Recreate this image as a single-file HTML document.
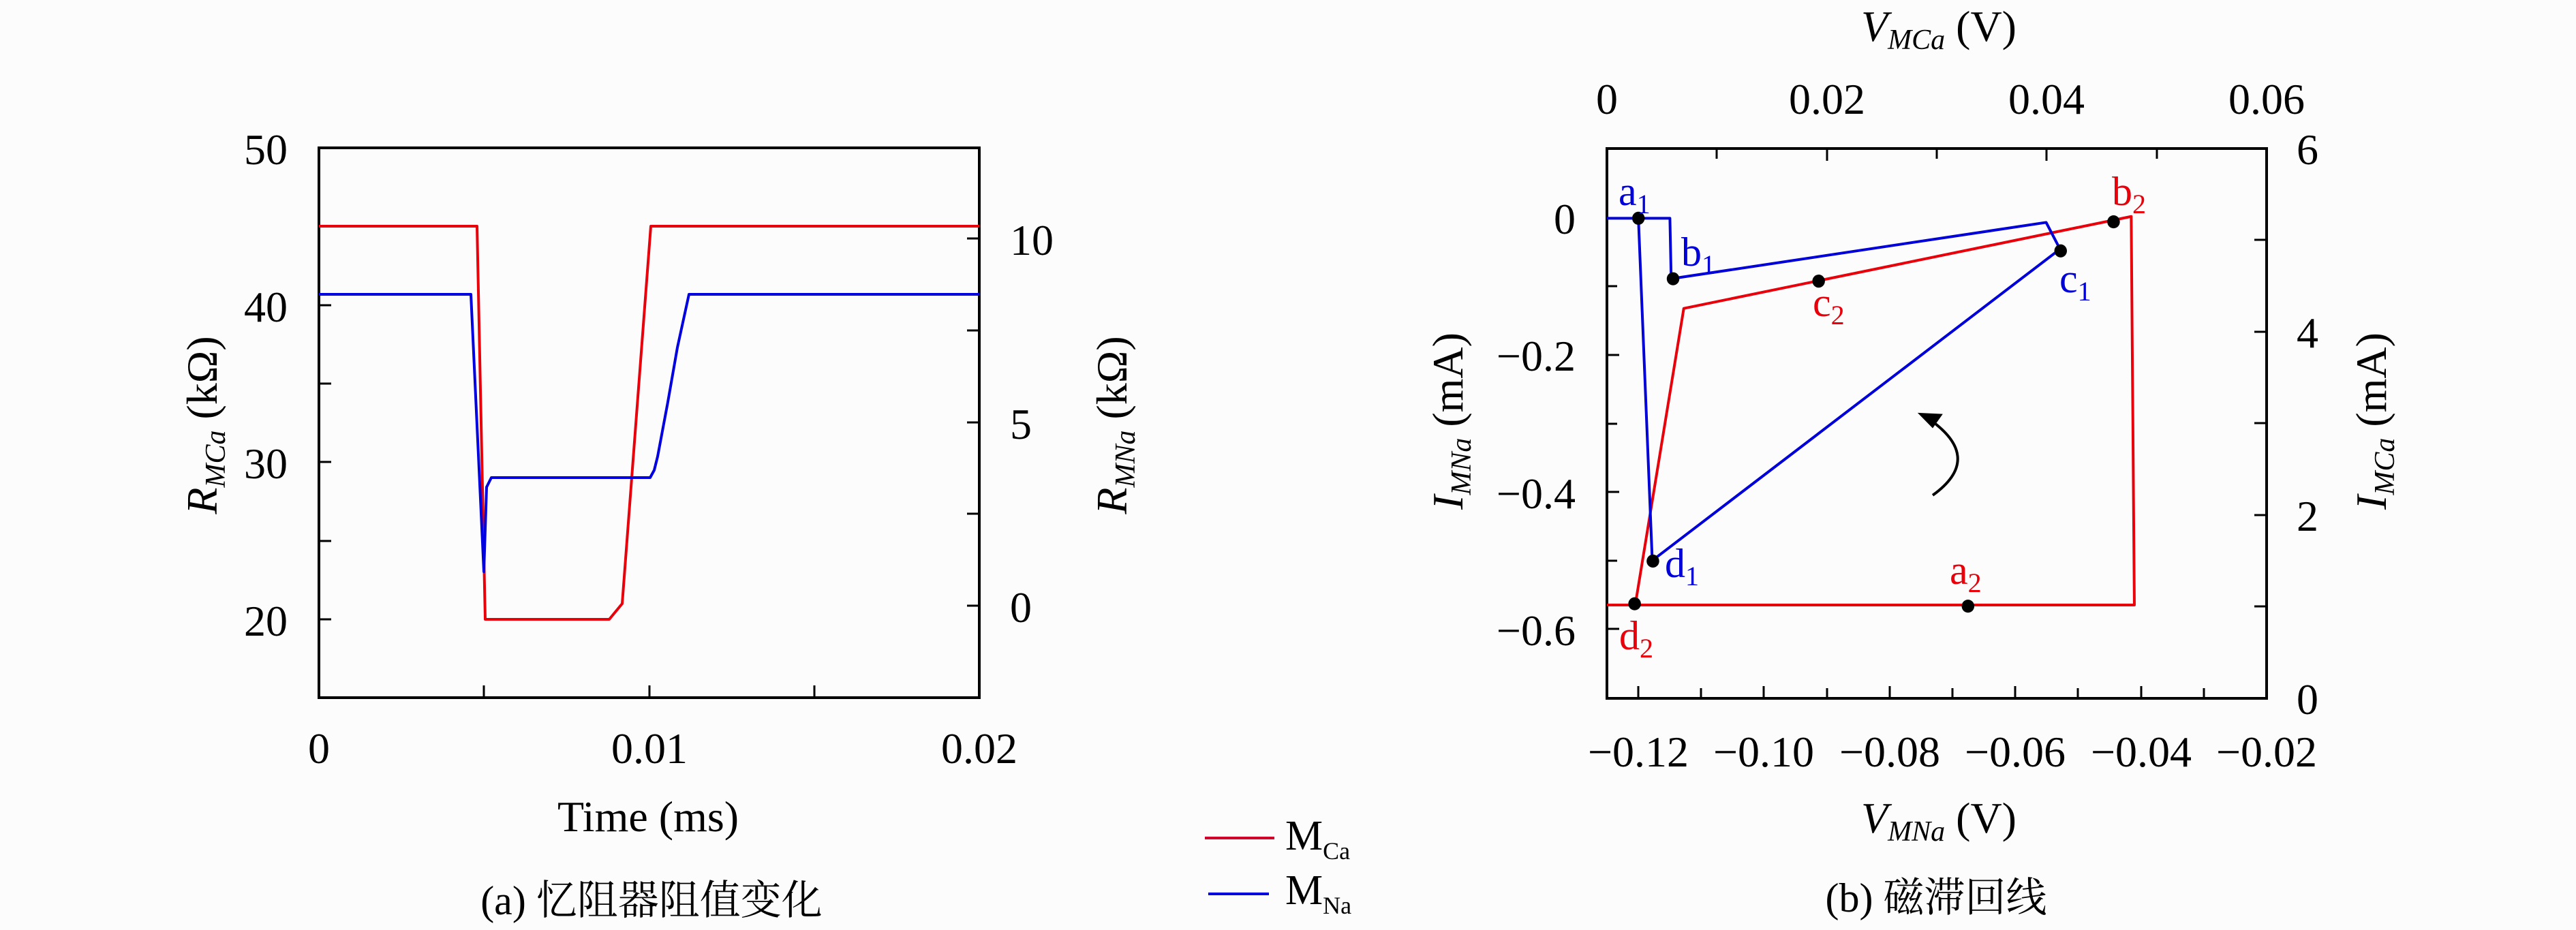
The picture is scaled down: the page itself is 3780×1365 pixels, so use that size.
<!DOCTYPE html>
<html><head><meta charset="utf-8"><style>
html,body{margin:0;padding:0;background:#fcfcfc;}
svg{display:block;}
svg text{font-family:"Liberation Serif","Noto Serif CJK SC",serif;fill:#000;}
</style></head><body>
<svg width="3780" height="1365" viewBox="0 0 3780 1365" xmlns="http://www.w3.org/2000/svg" font-family="Liberation Serif, Noto Serif CJK SC, serif">
<rect width="3780" height="1365" fill="#fcfcfc"/>

<!-- ========== LEFT PLOT ========== -->
<rect x="468" y="217" width="969" height="807" fill="none" stroke="#000" stroke-width="4"/>
<g stroke="#000" stroke-width="3">
  <line x1="468" y1="332" x2="486" y2="332"/><line x1="468" y1="448" x2="486" y2="448"/>
  <line x1="468" y1="563" x2="486" y2="563"/><line x1="468" y1="678" x2="486" y2="678"/>
  <line x1="468" y1="794" x2="486" y2="794"/><line x1="468" y1="909" x2="486" y2="909"/>
  <line x1="1437" y1="350" x2="1419" y2="350"/><line x1="1437" y1="485" x2="1419" y2="485"/>
  <line x1="1437" y1="620" x2="1419" y2="620"/><line x1="1437" y1="754" x2="1419" y2="754"/>
  <line x1="1437" y1="889" x2="1419" y2="889"/>
  <line x1="710" y1="1024" x2="710" y2="1006"/><line x1="953" y1="1024" x2="953" y2="1006"/>
  <line x1="1195" y1="1024" x2="1195" y2="1006"/>
</g>
<polyline fill="none" stroke="#e8000b" stroke-width="4" stroke-linejoin="round"
 points="468,332 700,332 712,909 894,909 913,886 955,332 1437,332"/>
<polyline fill="none" stroke="#0000e0" stroke-width="4" stroke-linejoin="round"
 points="468,432 691,432 710,839 714,715 721,701 954,701 960,690 965,670 980,590 994,510 1011,432 1437,432"/>
<g font-size="64" text-anchor="end">
  <text x="422" y="241">50</text><text x="422" y="472">40</text>
  <text x="422" y="702">30</text><text x="422" y="933">20</text>
</g>
<g font-size="64" text-anchor="start">
  <text x="1482" y="374">10</text><text x="1482" y="644">5</text><text x="1482" y="913">0</text>
</g>
<g font-size="64" text-anchor="middle">
  <text x="468" y="1120">0</text><text x="953" y="1120">0.01</text><text x="1437" y="1120">0.02</text>
  <text x="951" y="1220">Time (ms)</text>
</g>
<text transform="translate(318,624) rotate(-90)" font-size="64" text-anchor="middle"><tspan font-style="italic">R</tspan><tspan font-style="italic" font-size="42" dy="12">MCa</tspan><tspan dy="-12"> (kΩ)</tspan></text>
<text transform="translate(1653,624) rotate(-90)" font-size="64" text-anchor="middle"><tspan font-style="italic">R</tspan><tspan font-style="italic" font-size="42" dy="12">MNa</tspan><tspan dy="-12"> (kΩ)</tspan></text>
<text x="956" y="1342" font-size="60" text-anchor="middle">(a) 忆阻器阻值变化</text>

<!-- legend -->
<line x1="1768" y1="1230" x2="1870" y2="1230" stroke="#d0002a" stroke-width="4"/>
<line x1="1773" y1="1312" x2="1862" y2="1312" stroke="#0000e0" stroke-width="4"/>
<text x="1886" y="1247" font-size="62">M<tspan font-size="36" dy="14">Ca</tspan></text>
<text x="1886" y="1327" font-size="62">M<tspan font-size="36" dy="14">Na</tspan></text>

<!-- ========== RIGHT PLOT ========== -->
<rect x="2358" y="218" width="968" height="807" fill="none" stroke="#000" stroke-width="4"/>
<g stroke="#000" stroke-width="3">
  <line x1="2404" y1="1025" x2="2404" y2="1007"/><line x1="2496" y1="1025" x2="2496" y2="1010"/>
  <line x1="2588" y1="1025" x2="2588" y2="1007"/><line x1="2681" y1="1025" x2="2681" y2="1010"/>
  <line x1="2773" y1="1025" x2="2773" y2="1007"/><line x1="2865" y1="1025" x2="2865" y2="1010"/>
  <line x1="2957" y1="1025" x2="2957" y2="1007"/><line x1="3049" y1="1025" x2="3049" y2="1010"/>
  <line x1="3142" y1="1025" x2="3142" y2="1007"/><line x1="3234" y1="1025" x2="3234" y2="1010"/>
  <line x1="2519" y1="218" x2="2519" y2="233"/><line x1="2681" y1="218" x2="2681" y2="236"/>
  <line x1="2842" y1="218" x2="2842" y2="233"/><line x1="3003" y1="218" x2="3003" y2="236"/>
  <line x1="3165" y1="218" x2="3165" y2="233"/>
  <line x1="2358" y1="320" x2="2376" y2="320"/><line x1="2358" y1="420" x2="2373" y2="420"/>
  <line x1="2358" y1="521" x2="2376" y2="521"/><line x1="2358" y1="622" x2="2373" y2="622"/>
  <line x1="2358" y1="722" x2="2376" y2="722"/><line x1="2358" y1="823" x2="2373" y2="823"/>
  <line x1="2358" y1="923" x2="2376" y2="923"/>
  <line x1="3326" y1="352" x2="3308" y2="352"/><line x1="3326" y1="487" x2="3308" y2="487"/>
  <line x1="3326" y1="621" x2="3308" y2="621"/><line x1="3326" y1="756" x2="3308" y2="756"/>
  <line x1="3326" y1="890" x2="3308" y2="890"/>
</g>
<g transform="translate(2050,0) scale(0.92474,0.87054)">
  <polyline fill="none" stroke="#e8000b" stroke-width="4" vector-effect="non-scaling-stroke" stroke-linejoin="round"
   points="333,1020 1170,1020 1165,365 455,520 378,1020"/>
  <polyline fill="none" stroke="#0000d8" stroke-width="4" vector-effect="non-scaling-stroke" stroke-linejoin="round"
   points="333,368 433,368 435,470 1030,375 1052,420 405,945 383,368"/>
  <g fill="#000">
    <ellipse cx="383" cy="368" rx="10" ry="11"/><ellipse cx="438" cy="470" rx="10" ry="11"/>
    <ellipse cx="1053" cy="423" rx="10" ry="11"/><ellipse cx="406" cy="946" rx="10" ry="11"/>
    <ellipse cx="906" cy="1022" rx="10" ry="11"/><ellipse cx="1137" cy="374" rx="10" ry="11"/>
    <ellipse cx="669" cy="474" rx="10" ry="11"/><ellipse cx="377" cy="1018" rx="10" ry="11"/>
  </g>
  <path d="M850,835 Q935,770 838,702" fill="none" stroke="#000" stroke-width="4" vector-effect="non-scaling-stroke"/>
  <path d="M826,696 L866,698 L850,722 Z" fill="#000"/>
</g>
<g font-size="60">
  <text x="2375" y="301" style="fill:#0000d8">a<tspan font-size="40" dy="12">1</tspan></text>
  <text x="2467" y="390" style="fill:#0000d8">b<tspan font-size="40" dy="12">1</tspan></text>
  <text x="3022" y="429" style="fill:#0000d8">c<tspan font-size="40" dy="12">1</tspan></text>
  <text x="2443" y="847" style="fill:#0000d8">d<tspan font-size="40" dy="12">1</tspan></text>
  <text x="2861" y="857" style="fill:#e8000b">a<tspan font-size="40" dy="12">2</tspan></text>
  <text x="3099" y="301" style="fill:#e8000b">b<tspan font-size="40" dy="12">2</tspan></text>
  <text x="2660" y="464" style="fill:#e8000b">c<tspan font-size="40" dy="12">2</tspan></text>
  <text x="2376" y="953" style="fill:#e8000b">d<tspan font-size="40" dy="12">2</tspan></text>
</g>
<g font-size="64" text-anchor="middle">
  <text x="2404" y="1125">−0.12</text><text x="2588" y="1125">−0.10</text>
  <text x="2773" y="1125">−0.08</text><text x="2957" y="1125">−0.06</text>
  <text x="3142" y="1125">−0.04</text><text x="3326" y="1125">−0.02</text>
  <text x="2358" y="167">0</text><text x="2681" y="167">0.02</text>
  <text x="3003" y="167">0.04</text><text x="3326" y="167">0.06</text>
</g>
<g font-size="64" text-anchor="end">
  <text x="2312" y="343">0</text><text x="2312" y="544">−0.2</text>
  <text x="2312" y="746">−0.4</text><text x="2312" y="947">−0.6</text>
</g>
<g font-size="64" text-anchor="start">
  <text x="3370" y="241">6</text><text x="3370" y="510">4</text>
  <text x="3370" y="779">2</text><text x="3370" y="1048">0</text>
</g>
<text x="2845" y="60" font-size="64" text-anchor="middle"><tspan font-style="italic">V</tspan><tspan font-style="italic" font-size="42" dy="12">MCa</tspan><tspan dy="-12"> (V)</tspan></text>
<text x="2845" y="1222" font-size="64" text-anchor="middle"><tspan font-style="italic">V</tspan><tspan font-style="italic" font-size="42" dy="12">MNa</tspan><tspan dy="-12"> (V)</tspan></text>
<text transform="translate(2146,618) rotate(-90)" font-size="64" text-anchor="middle"><tspan font-style="italic">I</tspan><tspan font-style="italic" font-size="42" dy="12">MNa</tspan><tspan dy="-12"> (mA)</tspan></text>
<text transform="translate(3501,618) rotate(-90)" font-size="64" text-anchor="middle"><tspan font-style="italic">I</tspan><tspan font-style="italic" font-size="42" dy="12">MCa</tspan><tspan dy="-12"> (mA)</tspan></text>
<text x="2841" y="1338" font-size="60" text-anchor="middle">(b) 磁滞回线</text>
</svg>
</body></html>
